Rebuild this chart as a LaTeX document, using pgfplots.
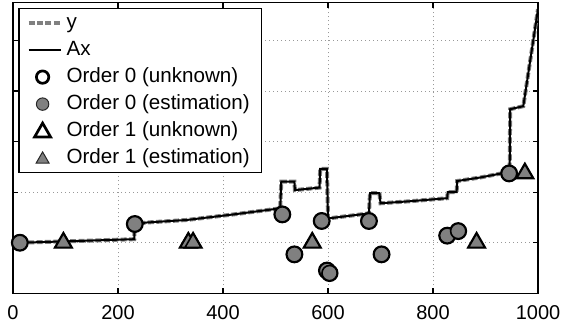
\documentclass[border=0pt]{standalone}
\usepackage{pgfplots}
\usepackage{pgfplotstable}
\pgfplotsset{compat=1.18}
\usepackage{fontspec}
\setmainfont{Liberation Sans}
\definecolor{mgray}{gray}{0.5}
\pgfplotsset{
  lineleg/.style={legend image code/.code={\draw[##1] (0bp,0bp) -- (16bp,0bp);}},
  circleg/.style={legend image code/.code={\draw[##1, mark size=3.1bp] plot coordinates {(7bp,0bp)};}},
  circlegb/.style={legend image code/.code={\draw[##1, mark size=3.1bp, mark options={draw=black!85, fill=mgray, line width=0.5bp}] plot coordinates {(7bp,0bp)};}},
  trileg/.style={legend image code/.code={\draw[##1] plot coordinates {(7bp,-0.6bp)};}},
  trilegb/.style={legend image code/.code={\draw[##1, mark size=3.7bp, mark options={draw=black!85, fill=mgray, line width=0.5bp}] plot coordinates {(7bp,-0.6bp)};}},
}
\pgfplotstableread{
x y
13 1.00
110 1.03
231 1.07
232 1.37
255 1.40
331 1.45
420 1.56
509 1.68
511 2.21
536 2.21
537 2.04
584 2.09
585 2.46
598 2.46
600 1.48
678 1.58
680 1.98
698 1.98
700 1.78
756 1.82
827 1.88
828 2.00
845 2.00
846 2.22
890 2.29
925 2.36
946 2.40
947 3.64
972 3.70
1000 5.62
}\linedata
\pgfplotstableread{
x y
13 1.00
232 1.37
513 1.56
536 0.77
588 1.43
598 0.45
603 0.40
678 1.43
702 0.77
827 1.14
848 1.23
945 2.37
}\circdata
\pgfplotstableread{
x y
96 1.0
334 1.0
343 1.0
570 1.0
883 1.0
975 2.37
}\tridata
\begin{document}
\begin{tikzpicture}
\begin{axis}[
  scale only axis, width=262.5bp, height=145.4bp,
  xmin=0, xmax=1000, ymin=0, ymax=5.75,
  xtick={0,200,400,600,800,1000}, ytick={1,2,3,4,5}, yticklabels={},
  tick align=inside, major tick length=2.5bp,
  grid=major, grid style={dash pattern=on 0.6bp off 1.4bp, gray!80, line width=0.5bp},
  axis line style={line width=0.8bp},
  tick style={black, line width=0.6bp},
  ticklabel style={font=\fontsize{10bp}{12bp}\selectfont},
  /pgf/number format/assume math mode=true,
  /pgf/number format/1000 sep={},
  scaled x ticks=false,
  xticklabel style={yshift=-2.4bp},
  legend cell align=left,
  legend style={at={(rel axis cs:0,1)}, anchor=north west, xshift=2.65bp, yshift=-2.75bp,
    draw=black, line width=0.6bp, inner xsep=3.85bp, inner ysep=0.5bp,
    column sep=0bp, row sep=0bp,
    nodes={inner xsep=2bp, inner ysep=1.5bp, text height=8bp, text depth=2.5bp,
      font=\fontsize{10.3bp}{12bp}\selectfont}},
]
\addplot[mgray, line width=2bp, dash pattern=on 3bp off 1.2bp, lineleg] table {\linedata};
\addlegendentry{y}
\addplot[black, line width=1bp, lineleg] table {\linedata};
\addlegendentry{Ax}
\addplot[only marks, mark=o, mark size=3.8bp, mark options={black, line width=1.35bp}, circleg] table {\circdata};
\addlegendentry{Order 0 (unknown)}
\addplot[only marks, mark=*, mark size=3.8bp, mark options={draw=black, fill=mgray, line width=0.8bp}, circlegb] table {\circdata};
\addlegendentry{Order 0 (estimation)}
\addplot[only marks, mark=triangle, mark size=4.6bp, mark options={black, line width=1.35bp}, trileg] table {\tridata};
\addlegendentry{Order 1 (unknown)}
\addplot[only marks, mark=triangle*, mark size=4.6bp, mark options={draw=black, fill=mgray, line width=0.8bp}, trilegb] table {\tridata};
\addlegendentry{Order 1 (estimation)}
\coordinate (sw) at (rel axis cs:0,0);
\coordinate (ne) at (rel axis cs:1,1);
\end{axis}
\pgfresetboundingbox
\path[use as bounding box] ([shift={(-6.5bp,-17.85bp)}]sw) rectangle ([shift={(11.5bp,1.25bp)}]ne);
\end{tikzpicture}
\end{document}
